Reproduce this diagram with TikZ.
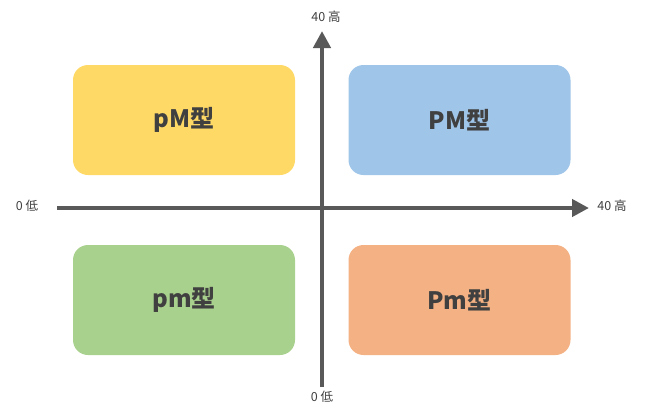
\documentclass[tikz,border=0pt]{standalone}
\usepackage{fontspec}
\setmainfont{Noto Sans CJK JP}
\usetikzlibrary{arrows.meta}
\definecolor{cyel}{HTML}{FFD966}
\definecolor{cblu}{HTML}{9FC5E8}
\definecolor{cgrn}{HTML}{A9D18E}
\definecolor{cora}{HTML}{F4B183}
\definecolor{ctxt}{HTML}{404040}
\definecolor{caxis}{HTML}{595959}
\begin{document}
\begin{tikzpicture}[x=1pt,y=-1pt,
  quad/.style={rounded corners=15pt,minimum width=222pt,minimum height=110pt,inner sep=0pt,
    font=\fontsize{24}{28}\selectfont\bfseries,text=ctxt},
  axis/.style={line width=4.5pt,draw=caxis,-{Triangle[width=17pt,length=17pt]}},
  lab/.style={font=\fontsize{12.5}{15}\selectfont,text=ctxt,inner sep=1pt}]
\useasboundingbox (0,0) rectangle (646,418);
\node[quad,fill=cyel] (pM) at (184,120) {pM型};
\node[quad,fill=cblu] (PM) at (459.5,120) {PM型};
\node[quad,fill=cgrn] (pm) at (184,300) {pm型};
\node[quad,fill=cora] (Pm) at (459.5,300) {Pm型};
\coordinate (hl) at (57,208);
\coordinate (hr) at (589,208);
\coordinate (vb) at (322,387);
\coordinate (vt) at (322,31);
\draw[axis] (hl) -- (hr);
\draw[axis] (vb) -- (vt);
\node[lab] (l0) at (27,206) {0 低};
\node[lab] (r40) at (612,206) {40 高};
\node[lab] (t40) at (326,17) {40 高};
\node[lab] (b0) at (322,397) {0 低};
\end{tikzpicture}
\end{document}
